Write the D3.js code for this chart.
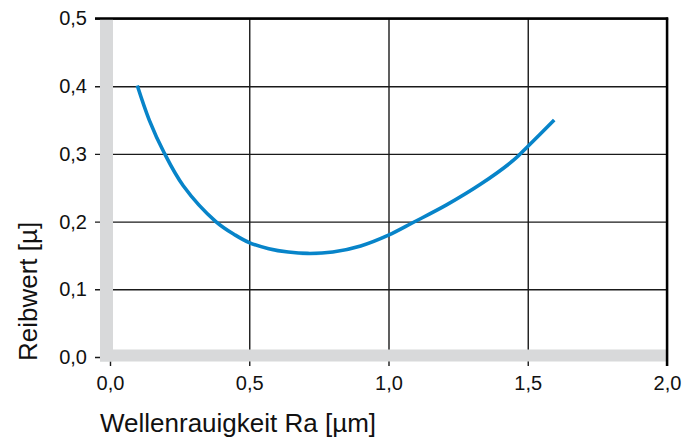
<!DOCTYPE html>
<html>
<head>
<meta charset="utf-8">
<script src="https://cdn.jsdelivr.net/npm/d3@7"></script>
<style>
  html, body { margin: 0; padding: 0; background: #fff; }
  svg { display: block; font-family: "Liberation Sans", Arial, Helvetica, sans-serif; }
</style>
</head>
<body>
<svg id="chart" width="697" height="438"></svg>
<script>
// ---- data ----
const roughness = [0.098, 0.141, 0.194, 0.263, 0.38, 0.45, 0.50, 0.57, 0.64, 0.71, 0.80, 0.90, 1.00, 1.09, 1.21, 1.33, 1.45, 1.50, 1.595];
const friction  = [0.401, 0.350, 0.302, 0.253, 0.200, 0.180, 0.169, 0.160, 0.155, 0.153, 0.155, 0.164, 0.180, 0.199, 0.225, 0.255, 0.291, 0.311, 0.350];
const xTicks = [0, 0.5, 1.0, 1.5, 2.0];
const xTickLabels = ["0,0", "0,5", "1,0", "1,5", "2,0"];
const yTicks = [0, 0.1, 0.2, 0.3, 0.4, 0.5];
const yTickLabels = ["0,0", "0,1", "0,2", "0,3", "0,4", "0,5"];
const xTitle = "Wellenrauigkeit Ra [µm]";
const yTitle = "Reibwert [µ]";

// ---- layout ----
const pLeft = 110, pRight = 667, pTop = 18.5, pBottom = 357;
const svg = d3.select("#chart");
const x = d3.scaleLinear().domain([0, 2]).range([pLeft, pRight]);
const y = d3.scaleLinear().domain([0, 0.5]).range([pBottom, pTop]);

// vertical grid + x ticks
const xAxis = d3.axisBottom(x)
  .tickValues(xTicks)
  .tickFormat((d, i) => xTickLabels[i])
  .tickSizeInner(-(366 - pTop))
  .tickSizeOuter(0)
  .tickPadding(10);
const gx = svg.append("g").attr("transform", "translate(0,366)").call(xAxis);
gx.select(".domain").remove();
gx.selectAll(".tick line").attr("stroke", "#1a1a1a").attr("stroke-width", 1.4);
gx.selectAll(".tick text").attr("font-size", 20).attr("fill", "#111")
  .attr("font-family", "\"Liberation Sans\", Arial, sans-serif");

// horizontal grid + y ticks
const yAxis = d3.axisLeft(y)
  .tickValues(yTicks)
  .tickFormat((d, i) => yTickLabels[i])
  .tickSizeInner(-(pRight - 95))
  .tickSizeOuter(0)
  .tickPadding(8);
const gy = svg.append("g").attr("transform", "translate(95,0)").call(yAxis);
gy.select(".domain").remove();
gy.selectAll(".tick line").attr("stroke", "#1a1a1a").attr("stroke-width", 1.4);
gy.selectAll(".tick text").attr("font-size", 20).attr("fill", "#111")
  .attr("font-family", "\"Liberation Sans\", Arial, sans-serif");

// grey axis bars
svg.append("rect").attr("x", 100).attr("y", pTop).attr("width", 13).attr("height", 361.5 - pTop)
  .attr("fill", "#d8d9da");
svg.append("rect").attr("x", 100).attr("y", 349.5).attr("width", pRight - 100).attr("height", 12)
  .attr("fill", "#d8d9da");

// black frame (top and right)
svg.append("line").attr("x1", 95).attr("x2", pRight + 1.2).attr("y1", y(0.5)).attr("y2", y(0.5))
  .attr("stroke", "#000").attr("stroke-width", 2.5);
svg.append("line").attr("x1", x(2)).attr("x2", x(2)).attr("y1", pTop - 1).attr("y2", 366)
  .attr("stroke", "#000").attr("stroke-width", 2.4);

// curve
const pts = roughness.map((r, i) => [r, friction[i]]);
const line = d3.line().x(d => x(d[0])).y(d => y(d[1])).curve(d3.curveCatmullRom.alpha(0.5));
svg.append("path").datum(pts).attr("d", line)
  .attr("fill", "none").attr("stroke", "#0784c9").attr("stroke-width", 3.6);

// titles
svg.append("text").attr("x", 100).attr("y", 432).attr("font-size", 26).attr("fill", "#111")
  .text(xTitle);
svg.append("text").attr("transform", "translate(37,361) rotate(-90)").attr("text-anchor", "start")
  .attr("font-size", 26).attr("fill", "#111").text(yTitle);
</script>
</body>
</html>
